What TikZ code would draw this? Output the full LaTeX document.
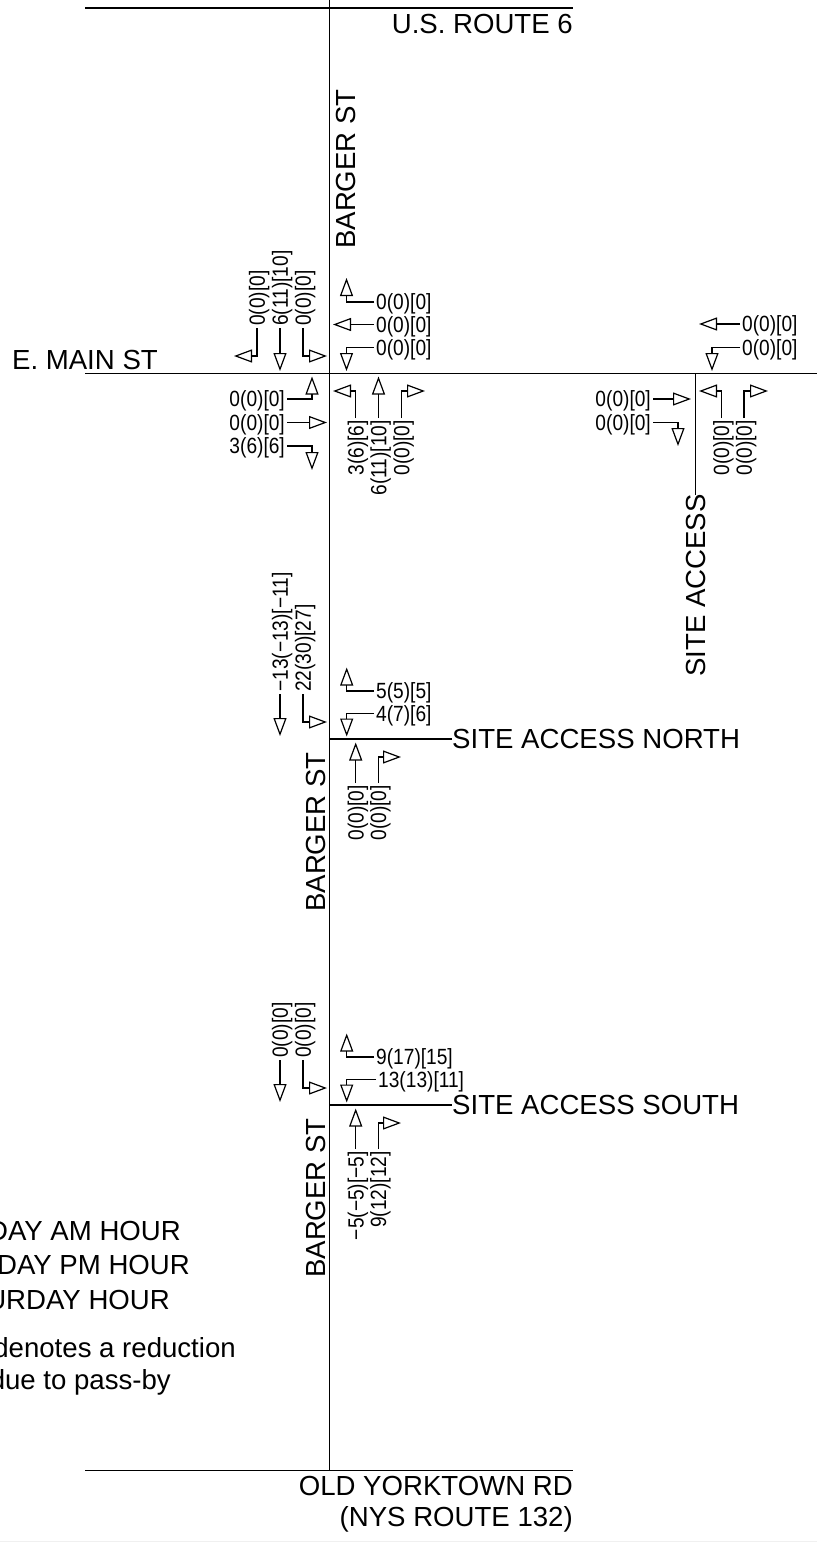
\documentclass[tikz,border=0pt]{standalone}
\usepackage{fontspec}
\setmainfont{Liberation Sans}
\newfontfamily\cadfont[FakeStretch=0.87]{Liberation Sans}
\usetikzlibrary{arrows.meta}
\tikzset{
  x=1pt,y=-1pt,
  road/.style={line width=1.4pt,black},
  lab/.style={inner sep=0pt,font=\fontsize{27.6}{30}\selectfont},
  vol/.style={inner sep=0pt,text height=15.6pt,text depth=0pt,font=\cadfont\fontsize{22}{24}\selectfont},
  arr/.style={line width=1.2pt,shorten <=2pt,-{Triangle[open,length=18pt,width=13pt,line width=1.2pt]}},
}
\begin{document}
\begin{tikzpicture}
\useasboundingbox (0,0) rectangle (817,1542);
\clip (0,0) rectangle (817,1542);
\fill[white] (0,0) rectangle (817,1542);
\fill[black!6] (0,1541) rectangle (817,1542);
% roads
\coordinate (usw) at (85,8); \coordinate (use) at (573,8);
\coordinate (nt) at (329.5,0); \coordinate (nb) at (329.5,1470);
\coordinate (emw) at (85,373.5); \coordinate (eme) at (817,373.5);
\coordinate (oyw) at (85,1470.5); \coordinate (oye) at (573,1470.5);
\coordinate (sat) at (695.3,373.5); \coordinate (sab) at (695.3,495);
\coordinate (n0) at (329.5,739); \coordinate (n1) at (452,739);
\coordinate (s0) at (329.5,1105); \coordinate (s1) at (452,1105);
\draw[road] (usw)--(use);
\draw[road] (nt)--(nb);
\draw[road] (emw)--(eme);
\draw[road] (oyw)--(oye);
\draw[road] (sat)--(sab);
\draw[road] (n0)--(n1);
\draw[road] (s0)--(s1);
% road labels
\node[lab,anchor=base east] (t1) at (573,33) {U.S. ROUTE 6};
\node[lab,anchor=base west,rotate=90] (t2) at (355,249) {BARGER ST};
\node[lab,anchor=base east] (t3) at (158,369) {E. MAIN ST};
\node[lab,anchor=base west,rotate=90] (t4) at (705,677) {SITE ACCESS};
\node[lab,anchor=west] (t5) at (452,739) {SITE ACCESS NORTH};
\node[lab,anchor=west] (t6) at (452,1105) {SITE ACCESS SOUTH};
\node[lab,anchor=base west,rotate=90] (t7) at (325,912) {BARGER ST};
\node[lab,anchor=base west,rotate=90] (t8) at (325,1278) {BARGER ST};
\node[lab,anchor=base east] (t9) at (573,1495) {OLD YORKTOWN RD};
\node[lab,anchor=base east] (t10) at (573,1526) {(NYS ROUTE 132)};
\node[lab,anchor=base east] (l1) at (181,1240) {DAY AM HOUR};
\node[lab,anchor=base east] (l2) at (190,1274) {DAY PM HOUR};
\node[lab,anchor=base east] (l3) at (170,1309) {URDAY HOUR};
\node[lab,anchor=base east] (l4) at (236,1357) {denotes a reduction};
\node[lab,anchor=base east] (l5) at (171,1389) {due to pass-by};
% E. Main / Barger
\node[vol,rotate=90,anchor=west] (a1) at (257,326) {0(0)[0]};
\node[vol,rotate=90,anchor=west] (a2) at (280,326) {6(11)[10]};
\node[vol,rotate=90,anchor=west] (a3) at (303,326) {0(0)[0]};
\coordinate (a1t) at (234,356); \coordinate (a2t) at (280,371); \coordinate (a3t) at (327,356);
\draw[arr] (a1.west) |- (a1t);
\draw[arr] (a2.west) -- (a2t);
\draw[arr] (a3.west) |- (a3t);
\node[vol,anchor=west] (b1) at (376,302) {0(0)[0]};
\node[vol,anchor=west] (b2) at (376,324.5) {0(0)[0]};
\node[vol,anchor=west] (b3) at (376,347.5) {0(0)[0]};
\coordinate (b1t) at (346.5,278); \coordinate (b2t) at (333,324.5); \coordinate (b3t) at (346.5,371);
\draw[arr] (b1.west) -| (b1t);
\draw[arr] (b2.west) -- (b2t);
\draw[arr] (b3.west) -| (b3t);
\node[vol,anchor=east] (c1) at (285,399) {0(0)[0]};
\node[vol,anchor=east] (c2) at (285,422.5) {0(0)[0]};
\node[vol,anchor=east] (c3) at (285,446) {3(6)[6]};
\coordinate (c1t) at (312,376.5); \coordinate (c2t) at (327,422.5); \coordinate (c3t) at (312,470);
\draw[arr] (c1.east) -| (c1t);
\draw[arr] (c2.east) -- (c2t);
\draw[arr] (c3.east) -| (c3t);
\node[vol,rotate=90,anchor=east] (d1) at (355.7,420) {3(6)[6]};
\node[vol,rotate=90,anchor=east] (d2) at (378.5,420) {6(11)[10]};
\node[vol,rotate=90,anchor=east] (d3) at (401.5,420) {0(0)[0]};
\coordinate (d1t) at (333,391); \coordinate (d2t) at (378.5,376.5); \coordinate (d3t) at (425,391);
\draw[arr] (d1.east) |- (d1t);
\draw[arr] (d2.east) -- (d2t);
\draw[arr] (d3.east) |- (d3t);
% E. Main / Site Access
\node[vol,anchor=west] (e1) at (742,324) {0(0)[0]};
\node[vol,anchor=west] (e2) at (742,347.3) {0(0)[0]};
\coordinate (e1t) at (699,324); \coordinate (e2t) at (712,371);
\draw[arr] (e1.west) -- (e1t);
\draw[arr] (e2.west) -| (e2t);
\node[vol,anchor=east] (f1) at (651,399) {0(0)[0]};
\node[vol,anchor=east] (f2) at (651,422.3) {0(0)[0]};
\coordinate (f1t) at (691,399); \coordinate (f2t) at (678,446);
\draw[arr] (f1.east) -- (f1t);
\draw[arr] (f2.east) -| (f2t);
\node[vol,rotate=90,anchor=east] (g1) at (721.3,420) {0(0)[0]};
\node[vol,rotate=90,anchor=east] (g2) at (744,420) {0(0)[0]};
\coordinate (g1t) at (699,391); \coordinate (g2t) at (768,391);
\draw[arr] (g1.east) |- (g1t);
\draw[arr] (g2.east) |- (g2t);
% Site Access North
\node[vol,rotate=90,anchor=west] (h1) at (280,692) {−13(−13)[−11]};
\node[vol,rotate=90,anchor=west] (h2) at (303,692) {22(30)[27]};
\coordinate (h1t) at (280,736); \coordinate (h2t) at (327,722);
\draw[arr] (h1.west) -- (h1t);
\draw[arr] (h2.west) |- (h2t);
\node[vol,anchor=west] (i1) at (376,691) {5(5)[5]};
\node[vol,anchor=west] (i2) at (376,713.3) {4(7)[6]};
\coordinate (i1t) at (346.7,667.5); \coordinate (i2t) at (346.7,736.5);
\draw[arr] (i1.west) -| (i1t);
\draw[arr] (i2.west) -| (i2t);
\node[vol,rotate=90,anchor=east] (j1) at (355.7,785) {0(0)[0]};
\node[vol,rotate=90,anchor=east] (j2) at (378.3,785) {0(0)[0]};
\coordinate (j1t) at (355.7,742.5); \coordinate (j2t) at (401,757);
\draw[arr] (j1.east) -- (j1t);
\draw[arr] (j2.east) |- (j2t);
% Site Access South
\node[vol,rotate=90,anchor=west] (k1) at (280,1058) {0(0)[0]};
\node[vol,rotate=90,anchor=west] (k2) at (303,1058) {0(0)[0]};
\coordinate (k1t) at (280,1102); \coordinate (k2t) at (327,1088);
\draw[arr] (k1.west) -- (k1t);
\draw[arr] (k2.west) |- (k2t);
\node[vol,anchor=west] (m1) at (376,1057) {9(17)[15]};
\node[vol,anchor=west] (m2) at (378,1079.3) {13(13)[11]};
\coordinate (m1t) at (346.7,1033.5); \coordinate (m2t) at (346.7,1102.5);
\draw[arr] (m1.west) -| (m1t);
\draw[arr] (m2.west) -| (m2t);
\node[vol,rotate=90,anchor=east] (o1) at (355.7,1151) {−5(−5)[−5]};
\node[vol,rotate=90,anchor=east] (o2) at (378.3,1151) {9(12)[12]};
\coordinate (o1t) at (355.7,1108.5); \coordinate (o2t) at (401,1123);
\draw[arr] (o1.east) -- (o1t);
\draw[arr] (o2.east) |- (o2t);
\end{tikzpicture}
\end{document}
